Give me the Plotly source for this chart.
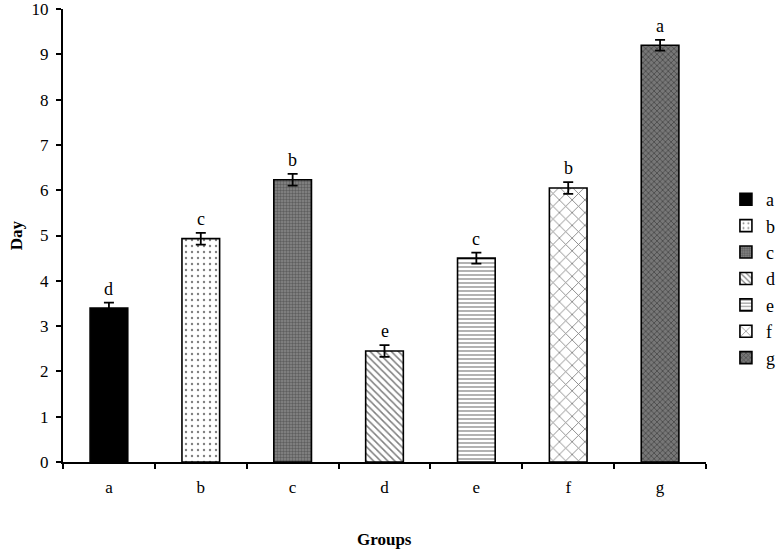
import plotly.graph_objects as go

groups = ["a", "b", "c", "d", "e", "f", "g"]
days = [3.4, 4.93, 6.23, 2.45, 4.5, 6.05, 9.2]
errors = [0.12, 0.13, 0.13, 0.13, 0.12, 0.13, 0.12]
letters = ["d", "c", "b", "e", "c", "b", "a"]
yticks = list(range(0, 11))

patterns = [
    dict(shape="", bgcolor="black"),
    dict(shape=".", bgcolor="white", fgcolor="black", size=6, solidity=0.12),
    dict(shape=".", bgcolor="#888888", fgcolor="#333333", size=3, solidity=0.5),
    dict(shape="\\", bgcolor="white", fgcolor="black", size=5, solidity=0.3),
    dict(shape="-", bgcolor="white", fgcolor="black", size=4, solidity=0.3),
    dict(shape="x", bgcolor="white", fgcolor="black", size=9, solidity=0.18),
    dict(shape="x", bgcolor="#777777", fgcolor="#222222", size=4, solidity=0.4),
]

fig = go.Figure()
for g, v, e, p in zip(groups, days, errors, patterns):
    fig.add_trace(go.Bar(
        x=[g], y=[v], name=g, width=0.41,
        marker=dict(color="black" if p["shape"] == "" else p["bgcolor"],
                    pattern=p, line=dict(color="black", width=1.6)),
        error_y=dict(type="data", array=[e], color="black", thickness=1.8, width=5),
    ))

for g, v, e, l in zip(groups, days, errors, letters):
    fig.add_annotation(x=g, y=v + e, text=l, showarrow=False, yanchor="bottom",
                       yshift=2, font=dict(family="Liberation Serif", size=18, color="black"))

fig.add_annotation(xref="paper", yref="paper", x=0.5, y=-0.172, yanchor="middle",
                   text="<b>Groups</b>", showarrow=False,
                   font=dict(family="Liberation Serif", size=17, color="black"))
fig.add_annotation(xref="paper", yref="paper", x=-0.072, y=0.5, xanchor="center",
                   text="<b>Day</b>", showarrow=False, textangle=-90,
                   font=dict(family="Liberation Serif", size=17, color="black"))

fig.update_layout(
    width=777, height=550,
    margin=dict(l=63, r=71, t=9, b=88, autoexpand=False),
    paper_bgcolor="white", plot_bgcolor="white",
    barmode="overlay",
    font=dict(family="Liberation Serif", size=17, color="black"),
    showlegend=True,
    legend=dict(xref="paper", x=1.031, y=0.405, yanchor="middle", xanchor="left",
                font=dict(family="Liberation Serif", size=18, color="black"),
                itemwidth=30, tracegroupgap=4, bgcolor="rgba(0,0,0,0)"),
    xaxis=dict(showline=True, linecolor="black", linewidth=2, automargin=False,
               ticks="outside", tickson="boundaries", ticklen=5, tickwidth=2,
               ticklabelstandoff=9,
               tickcolor="black", showgrid=False, range=[-0.5, 6.5]),
    yaxis=dict(range=[0, 10], tickmode="array", tickvals=yticks, automargin=False,
               ticklabeloverflow="allow", ticklabelstandoff=4,
               showline=True, linecolor="black", linewidth=2,
               ticks="outside", ticklen=5, tickwidth=2, tickcolor="black",
               showgrid=False, zeroline=False),
)

fig.write_html("out.html", config={"displayModeBar": False},
               post_script="document.body.style.margin='0';")
